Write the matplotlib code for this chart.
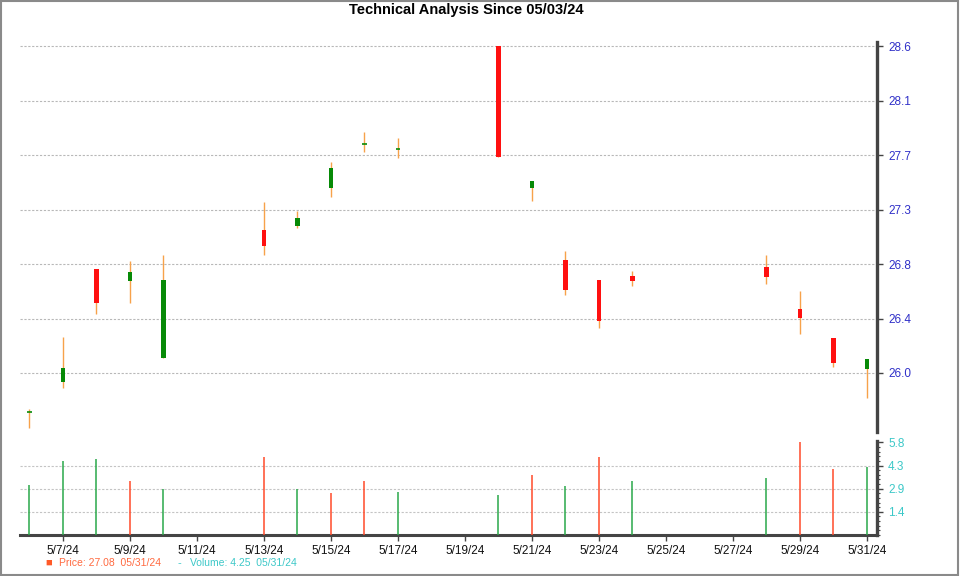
import matplotlib
matplotlib.use("Agg")
import matplotlib.pyplot as plt
import matplotlib.dates as mdates
import matplotlib.ticker as mticker
from matplotlib.patches import Rectangle
import numpy as np
import datetime as dt

plt.rcParams['font.family'] = ['Liberation Sans', 'DejaVu Sans']

# daily bars
dates = ["2024-05-06", "2024-05-07", "2024-05-08", "2024-05-09", "2024-05-10",
         "2024-05-13", "2024-05-14", "2024-05-15", "2024-05-16", "2024-05-17",
         "2024-05-20", "2024-05-21", "2024-05-22", "2024-05-23", "2024-05-24",
         "2024-05-28", "2024-05-29", "2024-05-30", "2024-05-31"]
opens = [25.69, 25.93, 26.83, 26.73, 26.12, 27.14, 27.17, 27.47, 27.82, 27.78,
         28.60, 27.47, 26.90, 26.74, 26.77, 26.84, 26.51, 26.28, 26.03]
highs = [25.71, 26.29, 26.83, 26.89, 26.94, 27.36, 27.29, 27.68, 27.92, 27.87,
         28.60, 27.53, 26.97, 26.74, 26.81, 26.94, 26.65, 26.28, 26.11]
lows = [25.56, 25.88, 26.47, 26.56, 26.12, 26.94, 27.15, 27.40, 27.76, 27.71,
        27.72, 27.37, 26.62, 26.36, 26.69, 26.71, 26.31, 26.05, 25.80]
closes = [25.69, 26.04, 26.56, 26.80, 26.74, 27.01, 27.23, 27.63, 27.82, 27.78,
          27.72, 27.53, 26.66, 26.41, 26.73, 26.76, 26.44, 26.08, 26.11]
volumes = [3.12, 4.63, 4.76, 3.39, 2.87, 4.88, 2.87, 2.62, 3.39, 2.72,
           2.50, 3.74, 3.08, 4.88, 3.39, 3.56, 5.84, 4.12, 4.28]
vol_up = [1, 1, 1, 0, 1, 0, 1, 0, 0, 1, 1, 0, 1, 0, 1, 1, 0, 0, 1]

price_ticks = [26.0, 26.4333, 26.8667, 27.3, 27.7333, 28.1667, 28.6]
price_labels = ["26.0", "26.4", "26.8", "27.3", "27.7", "28.1", "28.6"]
vol_ticks = [1.45, 2.9, 4.35, 5.8]
vol_labels = ["1.4", "2.9", "4.3", "5.8"]

title = "Technical Analysis Since 05/03/24"
price_legend = "Price: 27.08  05/31/24"
volume_legend = "Volume: 4.25  05/31/24"

GREEN = "#078a07"
RED = "#ff1010"
WICK = "#f7a24a"
VGREEN = "#2aa84a"
VRED = "#ff4a2a"
SPINE = "#444444"

x = mdates.date2num([dt.datetime.strptime(d, "%Y-%m-%d") for d in dates])
o = np.array(opens); h = np.array(highs); l = np.array(lows); c = np.array(closes)

fig = plt.figure(figsize=(9.6, 5.76), dpi=100)
fig.patches.append(Rectangle((0.001, 0.001), 0.997, 0.997, transform=fig.transFigure,
                             fill=False, edgecolor="#8a8a8a", linewidth=1.5))

ax = fig.add_axes([0.0208, 0.25, 0.8927, 0.677])
axv = fig.add_axes([0.0208, 0.0712, 0.8927, 0.163], sharex=ax)

# candles
ax.vlines(x, l, h, color=WICK, linewidth=1.0, zorder=2)
up = c >= o
body_w = 0.14
for xi, oi, ci, u in zip(x, o, c, up):
    col = GREEN if u else RED
    if abs(ci - oi) < 0.005:
        ax.hlines(oi, xi - body_w / 2, xi + body_w / 2, color=col, linewidth=1.2, zorder=3)
    else:
        ax.bar(xi, abs(ci - oi), bottom=min(oi, ci), width=body_w, color=col,
               linewidth=0, zorder=3)

# volume
vcols = [VGREEN if v else VRED for v in vol_up]
axv.vlines(x, 0, volumes, colors=vcols, linewidth=1.1, zorder=3)

left = x[0] - 0.28
right = x[-1] + 0.30
ax.set_xlim(left, right)
ax.set_ylim(25.53, 28.634)
axv.set_ylim(0, 5.88)

for a in (ax, axv):
    for s in ("left", "top"):
        a.spines[s].set_visible(False)
    a.spines["right"].set_color(SPINE)
    a.spines["right"].set_linewidth(2.4)
    a.yaxis.tick_right()
    a.set_facecolor("none")
ax.spines["bottom"].set_visible(False)
axv.spines["bottom"].set_color(SPINE)
axv.spines["bottom"].set_linewidth(2.2)

ax.set_yticks(price_ticks)
ax.set_yticklabels(price_labels)
ax.tick_params(axis="y", colors=SPINE, labelcolor="#3030c8", labelsize=8.5, length=4, width=1, pad=4)
ax.tick_params(axis="x", bottom=False, labelbottom=False)
ax.grid(axis="y", color="#b8b8b8", linestyle=(0, (2, 1.5)), linewidth=0.8)

axv.set_yticks(vol_ticks)
axv.set_yticklabels(vol_labels)
axv.yaxis.set_minor_locator(mticker.MultipleLocator(0.29))
axv.tick_params(axis="y", which="major", colors=SPINE, labelcolor="#3cc8c8", labelsize=8.5, length=4, width=1, pad=4)
axv.tick_params(axis="y", which="minor", colors=SPINE, length=2.5, width=0.8)
for t in vol_ticks[:-1]:
    axv.axhline(t, color="#c4c4c4", linestyle=(0, (2, 1.5)), linewidth=0.8, zorder=1)

xt = mdates.date2num([dt.datetime(2024, 5, 7) + dt.timedelta(days=2 * i) for i in range(13)])
axv.set_xticks(xt)
axv.xaxis.set_major_formatter(mticker.FuncFormatter(
    lambda v, p: "{d.month}/{d.day}/{d:%y}".format(d=mdates.num2date(v))))
axv.tick_params(axis="x", colors=SPINE, labelcolor="#111111", labelsize=8.5, length=4, width=1, pad=3)
ax.set_xlim(left, right)

fig.text(0.486, 0.982, title, ha="center", va="center", fontsize=10.5, fontweight="bold")
fig.text(0.047, 0.0226, "■", ha="left", va="center", fontsize=8, color="#ff5a28")
fig.text(0.061, 0.0226, price_legend, ha="left", va="center", fontsize=7.5, color="#ff6a40")
fig.text(0.185, 0.0226, "-", ha="left", va="center", fontsize=8, color="#3cc8c8")
fig.text(0.198, 0.0226, volume_legend, ha="left", va="center", fontsize=7.5, color="#3cc8c8")

fig.savefig("out.png", dpi=100)
